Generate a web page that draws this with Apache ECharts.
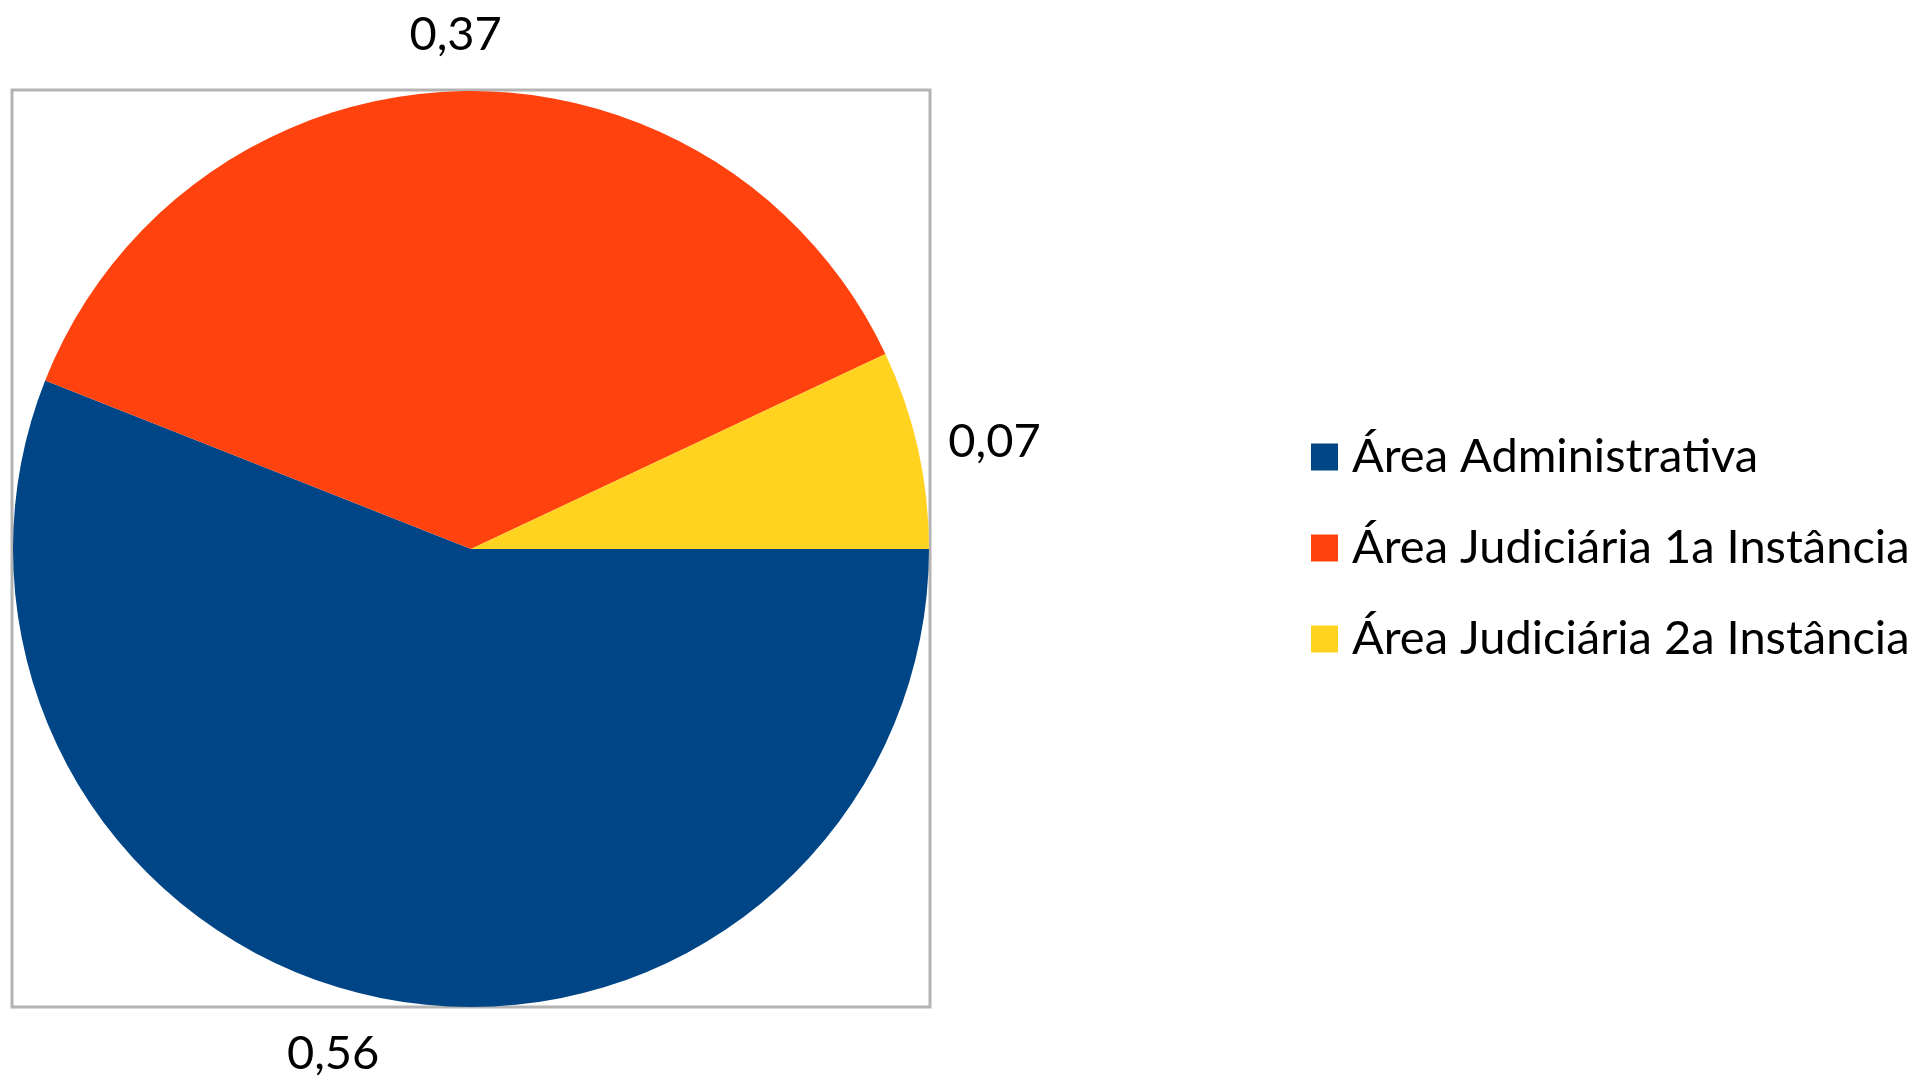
<!DOCTYPE html>
<html>
<head>
<meta charset="utf-8">
<script src="https://cdn.jsdelivr.net/npm/echarts@6/dist/echarts.min.js"></script>
<style>
html,body{margin:0;padding:0;background:#fff;}
#main{width:1921px;height:1079px;}
</style>
</head>
<body>
<div id="main"></div>
<script>
const categories = ['Área Administrativa', 'Área Judiciária 1a Instância', 'Área Judiciária 2a Instância'];
const values = [0.56, 0.37, 0.07];
const colors = ['#004586', '#ff420e', '#ffd320'];

const CX = 471, CY = 549, R = 458, GAP = 31;
const total = values.reduce((a, b) => a + b, 0);
const midAngles = [];
(function () {
  let acc = 0;
  values.forEach(v => {
    const a0 = -acc / total * 360;
    acc += v;
    const a1 = -acc / total * 360;
    midAngles.push((a0 + a1) / 2 * Math.PI / 180);
  });
})();

const chart = echarts.init(document.getElementById('main'), null, {renderer: 'canvas'});
chart.setOption({
  animation: false,
  backgroundColor: '#ffffff',
  graphic: [{
    type: 'rect',
    shape: {x: 12, y: 90, width: 918, height: 917},
    style: {fill: 'none', stroke: '#b3b3b3', lineWidth: 3},
    z: -10
  }],
  legend: {
    orient: 'vertical',
    left: 1306,
    top: 428,
    itemWidth: 27,
    itemHeight: 27,
    itemGap: 43,
    icon: 'rect',
    selectedMode: false,
    textStyle: {fontFamily: 'Lato', fontSize: 47, color: '#000', lineHeight: 48, padding: [0, 0, 0, 9]},
    data: categories
  },
  series: [{
    type: 'pie',
    center: [CX, CY],
    radius: R,
    startAngle: 0,
    clockwise: true,
    silent: true,
    emphasis: {scale: false},
    data: categories.map((c, i) => ({name: c, value: values[i], itemStyle: {color: colors[i]}})),
    label: {
      show: true,
      position: 'outside',
      fontFamily: 'Lato',
      fontSize: 47,
      lineHeight: 50,
      color: '#000',
      formatter: p => p.value.toFixed(2).replace('.', ',')
    },
    labelLine: {show: false},
    labelLayout: function (p) {
      const a = midAngles[p.dataIndex];
      const c = Math.cos(a), s = Math.sin(a);
      const d = R + GAP;
      const align = Math.abs(c) < 0.1 ? 'center' : (c > 0 ? 'left' : 'right');
      const vAlign = Math.abs(s) < 0.3 ? 'middle' : (s > 0 ? 'bottom' : 'top');
      return {x: CX + d * c, y: CY - d * s, align: align, verticalAlign: vAlign};
    }
  }]
});
</script>
</body>
</html>
